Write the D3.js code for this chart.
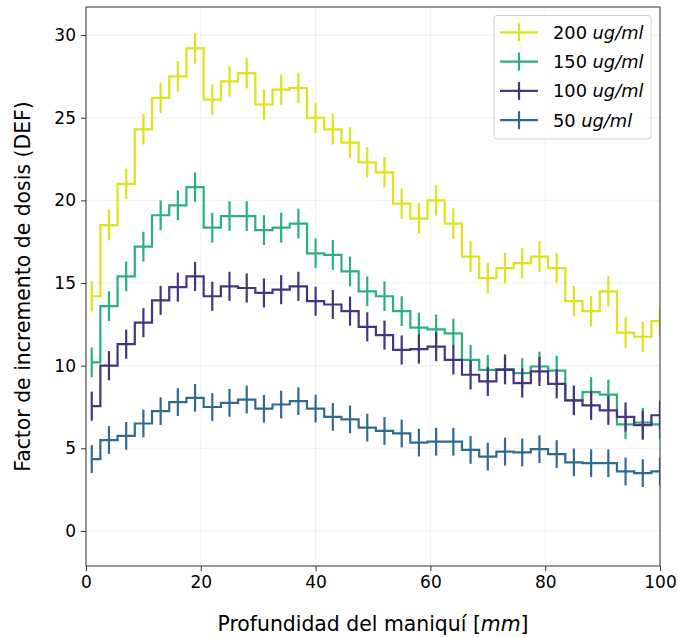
<!DOCTYPE html>
<html>
<head>
<meta charset="utf-8">
<script src="https://cdn.jsdelivr.net/npm/d3@7"></script>
<style>
  body { margin: 0; background: #fff; }
  text { font-family: "DejaVu Sans", sans-serif; fill: #000; }
</style>
</head>
<body>
<svg id="chart" width="678" height="638"></svg>
<script>
// bin centres (mm)
const depth = [1, 4, 7, 10, 13, 16, 19, 22, 25, 28, 31, 34, 37, 40, 43, 46, 49, 52,
  55, 58, 61, 64, 67, 70, 73, 76, 79, 82, 85, 88, 91, 94, 97, 100];

const def200 = [14.2, 18.5, 21.0, 24.3, 26.2, 27.5, 29.2, 26.1, 27.2, 27.7, 25.8, 26.7,
  26.8, 25.0, 24.3, 23.5, 22.3, 21.7, 19.8, 18.9, 20.0, 18.6, 16.6, 15.3, 15.9, 16.2,
  16.6, 15.9, 13.9, 13.3, 14.5, 12.0, 11.75, 12.7];
const def150 = [10.2, 13.6, 15.4, 17.2, 19.1, 19.7, 20.8, 18.35, 19.05, 19.05, 18.2, 18.35,
  18.6, 16.8, 16.7, 15.7, 14.5, 14.2, 13.3, 12.3, 12.2, 11.95, 10.35, 9.75, 9.8, 9.55,
  9.95, 9.7, 7.9, 8.4, 8.25, 6.45, 6.55, 6.45];
const def100 = [7.55, 10.0, 11.3, 12.6, 13.95, 14.75, 15.4, 14.2, 14.8, 14.7, 14.4, 14.6,
  14.8, 13.9, 13.7, 13.3, 12.35, 11.85, 10.95, 11.0, 11.15, 10.35, 9.45, 9.05, 9.75, 8.95,
  9.65, 8.9, 7.9, 7.6, 7.3, 6.9, 6.4, 7.0];
const def50 = [4.35, 5.5, 5.75, 6.5, 7.25, 7.8, 8.05, 7.5, 7.75, 7.95, 7.4, 7.65, 7.85,
  7.4, 6.9, 6.75, 6.25, 6.05, 5.9, 5.35, 5.4, 5.4, 4.9, 4.5, 4.8, 4.75, 4.95, 4.65, 4.15,
  4.1, 4.1, 3.6, 3.5, 3.6];

// half-length of the error bars, one per series
const errors = [0.92, 0.9, 0.88, 0.84];
const labels = ['200', '150', '100', '50'];
const colors = ['#dde318', '#2ab07f', '#463480', '#2f6b8e'];
const xTicks = [0, 20, 40, 60, 80, 100];
const yTicks = [0, 5, 10, 15, 20, 25, 30];

const series = [def200, def150, def100, def50].map((values, i) => ({
  label: labels[i],
  color: colors[i],
  err: errors[i],
  points: values.map((v, j) => ({ x: depth[j], y: v })),
}));

const plotLeft = 86;
const plotRight = 660;
const plotTop = 7;
const plotBottom = 566;

const svg = d3.select('#chart');
const x = d3.scaleLinear().domain([0, 100]).range([plotLeft, plotRight]);
const y = d3.scaleLinear().domain([-2.12, 31.7]).range([plotBottom, plotTop]);

svg.append('defs').append('clipPath').attr('id', 'plot-clip')
  .append('rect')
  .attr('x', plotLeft).attr('y', plotTop)
  .attr('width', plotRight - plotLeft).attr('height', plotBottom - plotTop);

// grid
const grid = svg.append('g').attr('stroke', '#ebebeb').attr('stroke-width', 0.8);
grid.selectAll('.gx').data(xTicks).join('line')
  .attr('x1', (d) => x(d)).attr('x2', (d) => x(d))
  .attr('y1', plotTop).attr('y2', plotBottom);
grid.selectAll('.gy').data(yTicks).join('line')
  .attr('x1', plotLeft).attr('x2', plotRight)
  .attr('y1', (d) => y(d)).attr('y2', (d) => y(d));

// steps + error bars
const line = d3.line().x((d) => x(d.x)).y((d) => y(d.y)).curve(d3.curveStep);
const plot = svg.append('g').attr('clip-path', 'url(#plot-clip)');

series.forEach((s) => {
  const g = plot.append('g');
  g.append('path')
    .datum(s.points)
    .attr('d', line)
    .attr('fill', 'none')
    .attr('stroke', s.color)
    .attr('stroke-width', 2.2);
  g.selectAll('line').data(s.points).join('line')
    .attr('x1', (d) => x(d.x)).attr('x2', (d) => x(d.x))
    .attr('y1', (d) => y(d.y - s.err)).attr('y2', (d) => y(d.y + s.err))
    .attr('stroke', s.color)
    .attr('stroke-width', 2.2);
});

// axes
const xAxis = svg.append('g')
  .attr('transform', `translate(0,${plotBottom})`)
  .call(d3.axisBottom(x).tickValues(xTicks).tickSize(5).tickPadding(5));
const yAxis = svg.append('g')
  .attr('transform', `translate(${plotLeft},0)`)
  .call(d3.axisLeft(y).tickValues(yTicks).tickSize(5).tickPadding(5));
[xAxis, yAxis].forEach((a) => {
  a.select('.domain').remove();
  a.selectAll('line').attr('stroke', '#333').attr('stroke-width', 1);
  a.selectAll('text').attr('font-size', 17).attr('font-family', '"DejaVu Sans", sans-serif').attr('fill', '#111');
});

// frame
svg.append('rect')
  .attr('x', plotLeft).attr('y', plotTop)
  .attr('width', plotRight - plotLeft).attr('height', plotBottom - plotTop)
  .attr('fill', 'none').attr('stroke', '#333').attr('stroke-width', 1);

// axis labels
const xLabel = svg.append('text')
  .attr('x', (plotLeft + plotRight) / 2).attr('y', 631)
  .attr('text-anchor', 'middle').attr('font-size', 20.4);
xLabel.append('tspan').text('Profundidad del maniquí [');
xLabel.append('tspan').attr('font-style', 'italic').text('mm');
xLabel.append('tspan').text(']');

svg.append('text')
  .attr('transform', `translate(30,${(plotTop + plotBottom) / 2}) rotate(-90)`)
  .attr('text-anchor', 'middle').attr('font-size', 20.4)
  .text('Factor de incremento de dosis (DEF)');

// legend
const legend = svg.append('g');
legend.append('rect')
  .attr('x', 494).attr('y', 15.5).attr('width', 157).attr('height', 123.5)
  .attr('rx', 3)
  .attr('fill', '#fff').attr('fill-opacity', 0.85)
  .attr('stroke', '#d0d0d0').attr('stroke-width', 1);

const item = legend.selectAll('.item').data(series).join('g')
  .attr('transform', (d, i) => `translate(0,${32.3 + i * 29.3})`);
item.append('line')
  .attr('x1', 500).attr('x2', 538).attr('y1', 0).attr('y2', 0)
  .attr('stroke', (d) => d.color).attr('stroke-width', 2.2);
item.append('line')
  .attr('x1', 519).attr('x2', 519).attr('y1', -9).attr('y2', 9)
  .attr('stroke', (d) => d.color).attr('stroke-width', 2.2);
const itemText = item.append('text')
  .attr('x', 553).attr('y', 6.5).attr('font-size', 17.8);
itemText.append('tspan').text((d) => `${d.label} `);
itemText.append('tspan').attr('font-style', 'italic').text('ug/ml');
</script>
</body>
</html>
